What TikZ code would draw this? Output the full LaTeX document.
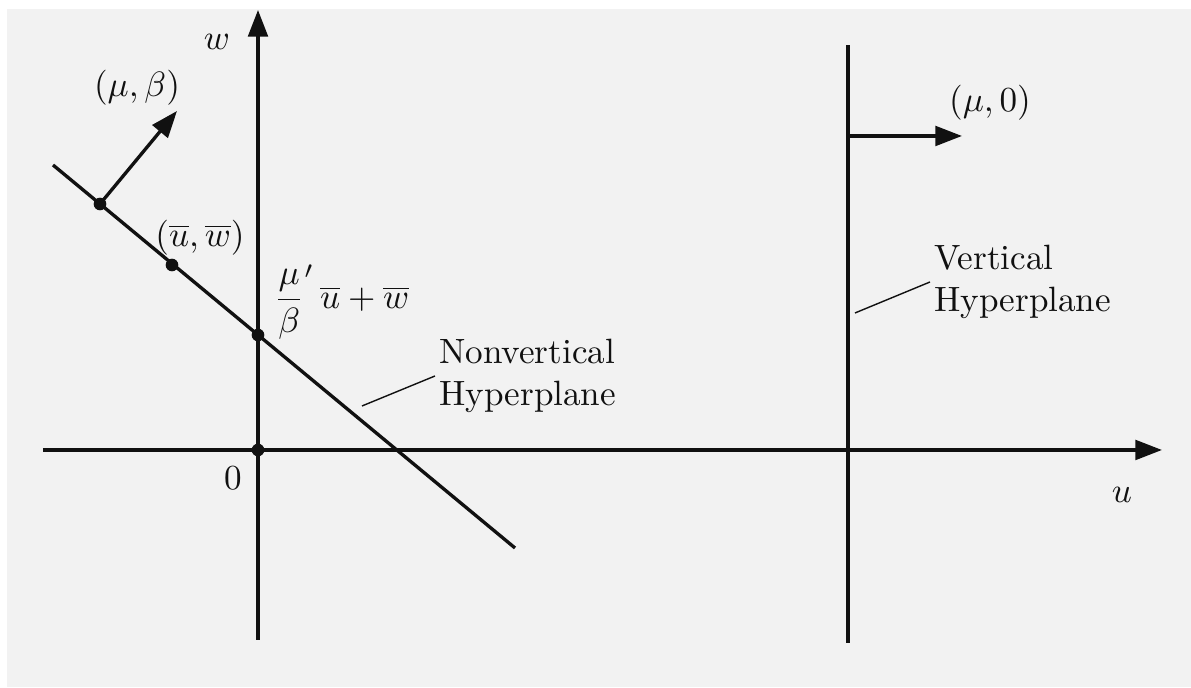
\documentclass[tikz,border=0pt]{standalone}
\usetikzlibrary{arrows.meta,calc,positioning}
\definecolor{hpink}{HTML}{111111}
\definecolor{hppale}{HTML}{F2F2F2}
\tikzset{
  hp axis/.style={draw=hpink, line width=0.95pt, -{Triangle[length=7.6pt,width=5.6pt]}},
  hp line/.style={draw=hpink, line width=0.95pt},
  hp arrow/.style={draw=hpink, line width=0.95pt, -{Triangle[length=7.6pt,width=5.6pt]}},
  hp leader/.style={draw=hpink, line width=0.4pt},
  hp dot/.style={circle, fill=hpink, inner sep=0pt, minimum size=3.6pt},
  hp label/.style={text=hpink, inner sep=1pt},
  hp note/.style={text=hpink, align=left, inner sep=1pt}
}
\begin{document}
\begin{tikzpicture}[x=1cm, y=1cm]
  \useasboundingbox (0,0) rectangle (11.91,6.88);
  \fill[hppale] (0.07,0.01) rectangle (11.91,6.79);

  % axes
  \coordinate (orig) at (2.58,2.38);
  \coordinate (wlow) at (2.58,0.48);
  \coordinate (wtop) at (2.58,6.78);
  \coordinate (uleft) at (0.43,2.38);
  \coordinate (uright) at (11.62,2.38);
  \draw[hp axis] (wlow) -- (wtop);
  \draw[hp axis] (uleft) -- (uright);
  \node[hp label] (wlab) at (2.17,6.46) {$w$};
  \node[hp label] (ulab) at (11.22,1.93) {$u$};
  \node[hp label] (zlab) at (2.33,2.10) {$0$};

  % nonvertical hyperplane
  \coordinate (nvstart) at (0.53,5.23);
  \coordinate (nvend) at (5.15,1.40);
  \draw[hp line] (nvstart) -- (nvend);
  \node[hp dot] (ptnorm) at (1.00,4.84) {};
  \node[hp dot] (ptbar) at (1.72,4.23) {};
  \node[hp dot] (ptcut) at (2.58,3.53) {};
  \node[hp dot] (ptorig) at (orig) {};
  \coordinate (normtip) at (1.77,5.77);
  \draw[hp arrow] (ptnorm.center) -- (normtip);
  \node[hp label] (mblab) at (1.37,6.00) {$(\mu,\beta)$};
  \node[hp label] (barlab) at (2.00,4.50) {$(\overline{u},\overline{w})$};
  \node[hp label, anchor=west] (cutlab) at (2.70,3.86) {${\displaystyle\frac{\mu}{\beta}}'\,\overline{u}+\overline{w}$};
  \node[hp note, anchor=west] (nvlab) at (4.35,3.12) {Nonvertical\\Hyperplane};
  \coordinate (nvfoot) at (3.62,2.82);
  \draw[hp leader] (nvfoot) -- (nvlab.west);

  % vertical hyperplane
  \coordinate (vlow) at (8.48,0.45);
  \coordinate (vtop) at (8.48,6.43);
  \draw[hp line] (vlow) -- (vtop);
  \coordinate (vbase) at (8.48,5.52);
  \coordinate (vtip) at (9.62,5.52);
  \draw[hp arrow] (vbase) -- (vtip);
  \node[hp label] (m0lab) at (9.90,5.85) {$(\mu,0)$};
  \node[hp note, anchor=west] (vlab) at (9.30,4.06) {Vertical\\Hyperplane};
  \coordinate (vfoot) at (8.55,3.75);
  \draw[hp leader] (vfoot) -- (vlab.west);
\end{tikzpicture}
\end{document}
